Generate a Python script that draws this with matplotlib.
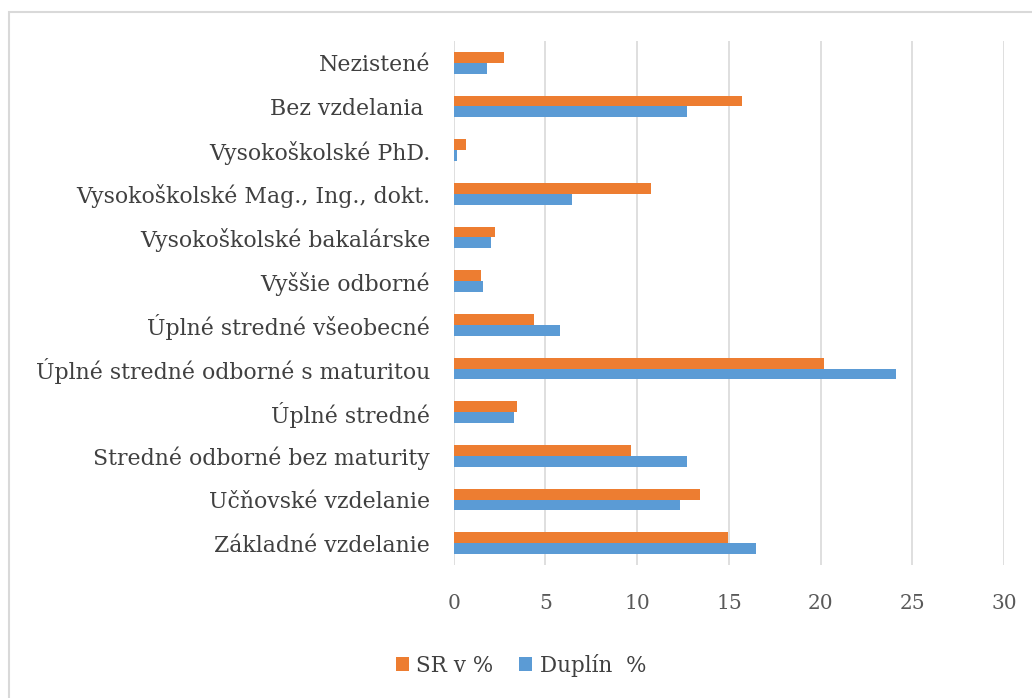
import matplotlib.pyplot as plt
import numpy as np
from matplotlib.patches import Rectangle

categories = [
    "Základné vzdelanie",
    "Učňovské vzdelanie",
    "Stredné odborné bez maturity",
    "Úplné stredné",
    "Úplné stredné odborné s maturitou",
    "Úplné stredné všeobecné",
    "Vyššie odborné",
    "Vysokoškolské bakalárske",
    "Vysokoškolské Mag., Ing., dokt.",
    "Vysokoškolské PhD.",
    "Bez vzdelania ",
    "Nezistené",
]
sr_values = [14.96, 13.43, 9.66, 3.45, 20.17, 4.36, 1.49, 2.27, 10.76, 0.65, 15.72, 2.76]
duplin_values = [16.5, 12.31, 12.72, 3.30, 24.1, 5.81, 1.61, 2.05, 6.44, 0.16, 12.72, 1.83]
x_ticks = [0, 5, 10, 15, 20, 25, 30]

plt.rcParams["font.family"] = ["DejaVu Serif"]

fig = plt.figure(figsize=(10.32, 6.98), dpi=100)
ax = fig.add_axes([0.4397, 0.1905, 0.5332, 0.7508])

y = np.arange(len(categories))
h = 0.25
ax.barh(y - h / 2, duplin_values, height=h, color="#5B9BD5", label="Duplín  %", zorder=3)
ax.barh(y + h / 2, sr_values, height=h, color="#ED7D31", label="SR v %", zorder=3)

ax.set_xlim(0, 30)
ax.set_ylim(-0.5, len(categories) - 0.5)
ax.set_xticks(x_ticks)
ax.set_yticks(y)
ax.set_yticklabels(categories, fontsize=15.8, color="#404040")
ax.tick_params(axis="x", labelsize=14.5, labelcolor="#595959", length=0, pad=21)
ax.tick_params(axis="y", length=0, pad=17)
ax.grid(axis="x", color="#d9d9d9", linewidth=1.2, zorder=0)
for s in ax.spines.values():
    s.set_visible(False)

handles, labels = ax.get_legend_handles_labels()
fig.legend(handles[::-1], labels[::-1], loc="center", bbox_to_anchor=(0.505, 0.047),
           ncol=2, frameon=False, fontsize=15.5, handlelength=0.6, handleheight=0.6,
           columnspacing=1.2, handletextpad=0.35, labelcolor="#404040")

# outer chart border (only left and top edges fall inside the image)
fig.patches.append(Rectangle((9 / 1032, -0.05), 1.1, 1.05 - 12 / 698, transform=fig.transFigure,
                             fill=False, edgecolor="#d9d9d9", linewidth=1.5))

fig.savefig("out.png", dpi=100)
